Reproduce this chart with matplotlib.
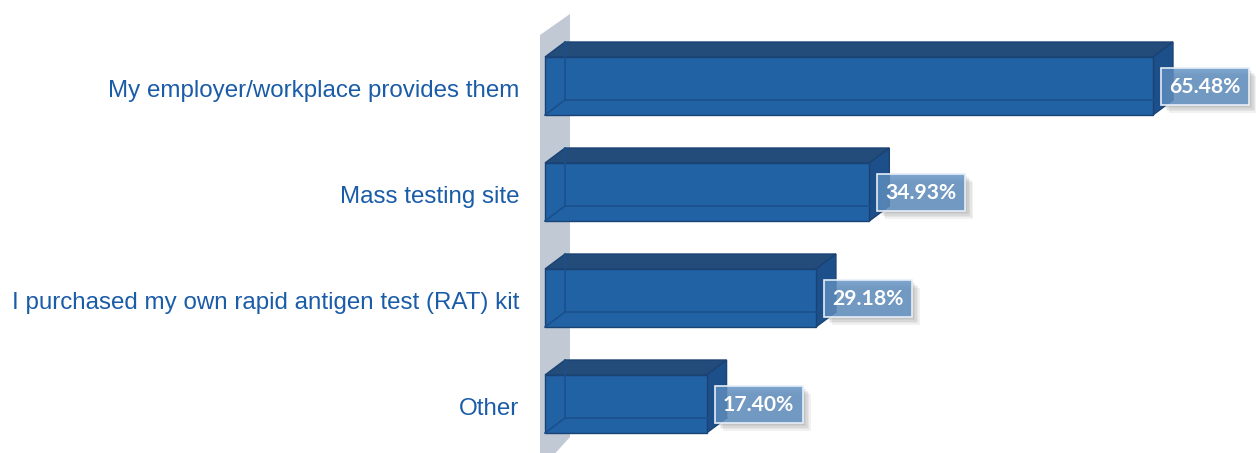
import matplotlib
matplotlib.use("Agg")
import matplotlib.pyplot as plt
from matplotlib.patches import Polygon, Rectangle

# ---------------------------------
# Data
# ---------------------------------
categories = [
    "My employer/workplace provides them",
    "Mass testing site",
    "I purchased my own rapid antigen test (RAT) kit",
    "Other",
]
values = [65.48, 34.93, 29.18, 17.40]
value_labels = ["65.48%", "34.93%", "29.18%", "17.40%"]

# ---------------------------------
# Styling
# ---------------------------------
FRONT = "#2162a5"
TOP = "#244c7a"
SIDE = "#1d4f8b"
EDGE = "#1a4373"
HIDDEN = "#1b4f8c"
WALL = "#c1c9d5"
TEXT_BLUE = "#1b5ca8"

W, H, DPI = 12.56, 4.53, 100
PX_PER_PCT = 9.285      # horizontal pixels per percent
PX_PER_ROW = 106.0      # vertical pixels between bars
X0_PX = 545.0           # pixel position of 0%
Y0_PX = 86.0            # pixel centre of the first bar

def px_x(p):
    return p / PX_PER_PCT

def px_y(p):
    return p / PX_PER_ROW

bar_h = px_y(58)
dx, dy = px_x(20), -px_y(15)

fig = plt.figure(figsize=(W, H), dpi=DPI)
ax = fig.add_axes([0, 0, 1, 1])
ax.set_xlim(-X0_PX / PX_PER_PCT, (W * DPI - X0_PX) / PX_PER_PCT)
ax.set_ylim((H * DPI - Y0_PX) / PX_PER_ROW, -Y0_PX / PX_PER_ROW)
ax.axis("off")

# back wall of the category axis
wx0, wx1 = px_x(-5), px_x(25)
wall = Polygon([(wx0, px_y(35 - Y0_PX)), (wx1, px_y(14 - Y0_PX)),
                (wx1, px_y(437 - Y0_PX)), (wx0, px_y(470 - Y0_PX))],
               closed=True, facecolor=WALL, edgecolor="none", zorder=1)
ax.add_patch(wall)

for i, (cat, v, lab) in enumerate(zip(categories, values, value_labels)):
    yt, yb = i - bar_h / 2, i + bar_h / 2

    top = Polygon([(0, yt), (dx, yt + dy), (v + dx, yt + dy), (v, yt)],
                  closed=True, facecolor=TOP, edgecolor=EDGE, lw=1, zorder=3)
    side = Polygon([(v, yt), (v + dx, yt + dy), (v + dx, yb + dy), (v, yb)],
                   closed=True, facecolor=SIDE, edgecolor=EDGE, lw=1, zorder=3)
    front = Rectangle((0, yt), v, bar_h, facecolor=FRONT, edgecolor=EDGE,
                      lw=1, zorder=4)
    for p in (top, side, front):
        ax.add_patch(p)

    # back edges seen through the front face
    ax.plot([dx, dx], [yt + dy, yb + dy], color=HIDDEN, lw=1.2, zorder=5)
    ax.plot([dx, v + dx], [yb + dy, yb + dy], color=HIDDEN, lw=1.2, zorder=5)
    ax.plot([0, dx], [yb, yb + dy], color=HIDDEN, lw=1.2, zorder=5)

    # category label
    ax.text(px_x(519 - X0_PX), i + px_y(5), cat, ha="right", va="center",
            fontsize=17.4, color=TEXT_BLUE, family="Liberation Sans", zorder=6)

    # value label box with soft shadow
    bx, bw, bh = v + px_x(8), px_x(88), px_y(37)
    for k in range(5):
        off = 2 + k * 1.5
        sh = Rectangle((bx + px_x(off), i - bh / 2 + px_y(off)), bw, bh,
                       facecolor="#555555", edgecolor="none", alpha=0.08,
                       zorder=6)
        ax.add_patch(sh)
    box = Rectangle((bx, i - bh / 2), bw, bh, facecolor="#5e8fc2", alpha=0.8,
                    edgecolor="none", zorder=7)
    ax.add_patch(box)
    ax.add_patch(Rectangle((bx, i - bh / 2), bw, bh, facecolor="none",
                           edgecolor="#e6eef7", lw=1.2, zorder=8))
    ax.text(bx + bw / 2, i + px_y(1), lab, ha="center", va="center",
            fontsize=15.2, fontweight="bold", color="white", family="Lato",
            zorder=9)

fig.savefig("out.png", dpi=DPI)
